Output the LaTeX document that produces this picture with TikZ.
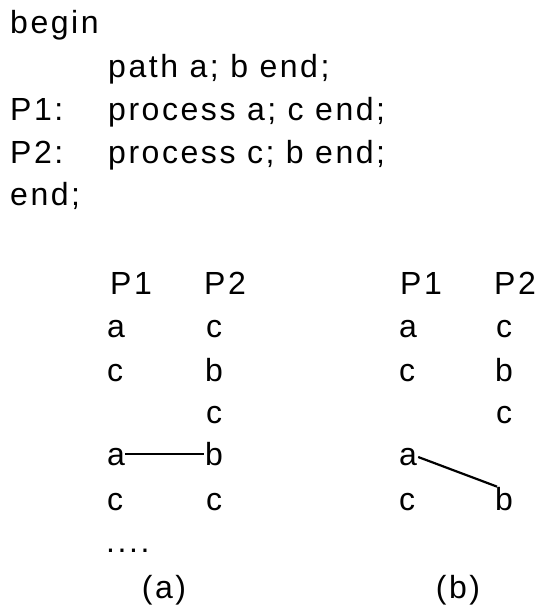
\documentclass[tikz,border=0pt]{standalone}
\usepackage{fontspec}
\setmainfont{Liberation Sans}[LetterSpace=8]
\usepackage{tikz}
\usetikzlibrary{calc}

\begin{document}
\begin{tikzpicture}[x=1pt,y=-1pt]
	 \tikzstyle{word}=[anchor=base west,inner sep=0pt,font=\fontsize{32}{34}\selectfont]
	 \tikzstyle{label}=[anchor=base,inner sep=0pt,font=\fontsize{32}{34}\selectfont]
	 \tikzstyle{edge} = [draw,line width=2.2pt,-,black]
	 \useasboundingbox (0,0) rectangle (541,606);
	 % program text
	 \node[word] (t0) at (10,33) {begin};
	 \node[word] (t1) at (108,77) {path a; b end;};
	 \node[word] (t2) at (10,120) {P1:};
	 \node[word] (t3) at (108,120) {process a; c end;};
	 \node[word] (t4) at (10,163) {P2:};
	 \node[word] (t5) at (108,163) {process c; b end;};
	 \node[word] (t6) at (10,205) {end;};
	 % trace (a)
	 \node[word] (pa0) at (110,294) {P1};
	 \node[word] (pa1) at (107,337) {a};
	 \node[word] (pa2) at (107,381) {c};
	 \node[word] (pa4) at (107,465) {a};
	 \node[word] (pa5) at (107,510) {c};
	 \node[word] (pa6) at (106,552) {....};
	 \node[word] (qa0) at (204,294) {P2};
	 \node[word] (qa1) at (206,337) {c};
	 \node[word] (qa2) at (205,381) {b};
	 \node[word] (qa3) at (206,423) {c};
	 \node[word] (qa4) at (205,465) {b};
	 \node[word] (qa5) at (206,510) {c};
	 \node[label] (la) at (164,598) {(a)};
	 \draw[edge] ($(pa4.base east)+(0,-11)$) -- ($(qa4.base west)+(-1,-11)$);
	 % trace (b)
	 \node[word] (pb0) at (400,294) {P1};
	 \node[word] (pb1) at (399,337) {a};
	 \node[word] (pb2) at (399,381) {c};
	 \node[word] (pb4) at (399,465) {a};
	 \node[word] (pb5) at (399,510) {c};
	 \node[word] (qb0) at (494,294) {P2};
	 \node[word] (qb1) at (496,337) {c};
	 \node[word] (qb2) at (495,381) {b};
	 \node[word] (qb3) at (496,423) {c};
	 \node[word] (qb5) at (495,510) {b};
	 \node[label] (lb) at (458,598) {(b)};
	 \draw[edge] ($(pb4.base east)+(1,-8)$) -- ($(qb5.north west)+(2,0)$);
\end{tikzpicture}
\end{document}
